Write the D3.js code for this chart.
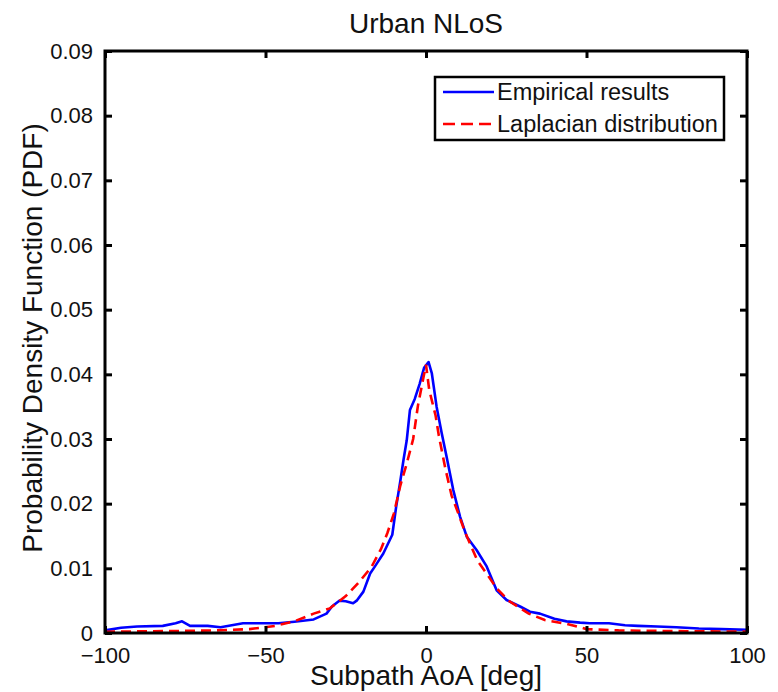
<!DOCTYPE html>
<html><head><meta charset="utf-8">
<script src="https://cdn.jsdelivr.net/npm/d3@7"></script>
<style>html,body{margin:0;padding:0;background:#fff;}svg{display:block;}</style>
</head><body>
<script>
const title = "Urban NLoS";
const xLabel = "Subpath AoA [deg]";
const yLabel = "Probability Density Function (PDF)";
const seriesNames = ["Empirical results", "Laplacian distribution"];
const xTicks = [-100, -50, 0, 50, 100];
const xTickLabels = ["\u2212100", "\u221250", "0", "50", "100"];
const yTicks = [0, 0.01, 0.02, 0.03, 0.04, 0.05, 0.06, 0.07, 0.08, 0.09];
const yTickLabels = ["0", "0.01", "0.02", "0.03", "0.04", "0.05", "0.06", "0.07", "0.08", "0.09"];

const empX = [-100, -95, -90, -82, -78, -76, -73.5, -68, -64, -57, -52, -46, -41, -35, -31, -29.3, -27, -25, -22.7, -21.6, -19.5, -17.4, -15.9, -13.3, -10.5, -9.3, -8, -7, -6, -5, -3.5, -2, -0.6, 0.8, 1.8, 3.3, 4.9, 6.4, 8.5, 10.6, 12.7, 15.8, 18.9, 22, 25.1, 29.3, 32.4, 35.5, 40, 43.8, 48, 51, 57, 62, 66, 72, 78, 85, 92, 100];
const empY = [0.0004, 0.0008, 0.001, 0.0011, 0.0015, 0.0018, 0.0011, 0.0011, 0.0009, 0.0015, 0.0015, 0.0015, 0.00175, 0.0021, 0.003, 0.0041, 0.005, 0.0049, 0.0046, 0.005, 0.0064, 0.0092, 0.0103, 0.0123, 0.0152, 0.0195, 0.0235, 0.0268, 0.0298, 0.0345, 0.0362, 0.0385, 0.041, 0.0419, 0.0402, 0.035, 0.0309, 0.0273, 0.0221, 0.018, 0.0149, 0.0128, 0.0103, 0.0066, 0.0051, 0.0041, 0.0033, 0.003, 0.0022, 0.0018, 0.0016, 0.0015, 0.0015, 0.0012, 0.0011, 0.001, 0.0009, 0.0007, 0.0006, 0.0005];

const lapX = [-100, -80, -65, -55, -47, -41, -35, -30, -25, -21, -17, -14, -12, -10, -8, -6, -4, -2.5, -1, 0, 1, 3, 4, 6, 8, 10, 12, 14, 16, 19, 22, 26, 32, 37, 44, 50, 60, 75, 100];
const lapY = [0.0002, 0.0003, 0.0004, 0.0006, 0.0011, 0.0018, 0.003, 0.0038, 0.0057, 0.0078, 0.0102, 0.013, 0.0155, 0.0185, 0.0228, 0.0262, 0.03, 0.0352, 0.039, 0.0415, 0.0376, 0.0336, 0.0305, 0.0255, 0.0212, 0.0186, 0.0158, 0.0135, 0.0112, 0.0091, 0.0069, 0.0049, 0.003, 0.002, 0.0014, 0.0006, 0.0004, 0.0003, 0.0002];

const W = 778, H = 692;
const m = {left: 105, right: 747, top: 51, bottom: 633};
const FONT = "Arial, 'Liberation Sans', Helvetica, sans-serif";

const svg = d3.select("body").append("svg").attr("width", W).attr("height", H);

const x = d3.scaleLinear().domain([-100, 100]).range([m.left, m.right]);
const y = d3.scaleLinear().domain([0, 0.09]).range([m.bottom, m.top]);

// clip
svg.append("clipPath").attr("id", "clip").append("rect")
  .attr("x", m.left).attr("y", m.top).attr("width", m.right - m.left).attr("height", m.bottom - m.top);

const line = d3.line().x((d, i) => x(d[0])).y(d => y(d[1]));

const emp = empX.map((v, i) => [v, empY[i]]);
const lap = lapX.map((v, i) => [v, lapY[i]]);

const g = svg.append("g").attr("clip-path", "url(#clip)");
g.append("path").datum(emp).attr("d", line)
  .attr("fill", "none").attr("stroke", "#0000ff").attr("stroke-width", 2.6).attr("stroke-linejoin", "round");
g.append("path").datum(lap).attr("d", line)
  .attr("fill", "none").attr("stroke", "#ff0000").attr("stroke-width", 2.6).attr("stroke-dasharray", "10,6");

// axes with inward ticks
const tickLen = 7;
const axB = d3.axisBottom(x).tickValues(xTicks).tickSize(-tickLen).tickFormat((d, i) => xTickLabels[i]).tickPadding(14);
const axT = d3.axisTop(x).tickValues(xTicks).tickSize(-tickLen).tickFormat("");
const axL = d3.axisLeft(y).tickValues(yTicks).tickSize(-tickLen).tickFormat((d, i) => yTickLabels[i]).tickPadding(12);
const axR = d3.axisRight(y).tickValues(yTicks).tickSize(-tickLen).tickFormat("");

function style(sel) {
  sel.select(".domain").remove();
  sel.selectAll(".tick line").attr("stroke", "#000").attr("stroke-width", 3);
  sel.selectAll(".tick text").attr("fill", "#111").style("font-family", FONT).style("font-size", "22px");
}
svg.append("g").attr("transform", `translate(0,${m.bottom})`).call(axB).call(style)
  .selectAll(".tick text").attr("dy", "0.71em");
svg.append("g").attr("transform", `translate(0,${m.top})`).call(axT).call(style);
svg.append("g").attr("transform", `translate(${m.left},0)`).call(axL).call(style);
svg.append("g").attr("transform", `translate(${m.right},0)`).call(axR).call(style);

// frame
svg.append("rect").attr("x", m.left).attr("y", m.top).attr("width", m.right - m.left).attr("height", m.bottom - m.top)
  .attr("fill", "none").attr("stroke", "#000").attr("stroke-width", 3);

// title and labels
svg.append("text").attr("x", (m.left + m.right) / 2).attr("y", 32.5).attr("text-anchor", "middle")
  .style("font-family", FONT).style("font-size", "28px").attr("fill", "#111").text(title);
svg.append("text").attr("x", (m.left + m.right) / 2).attr("y", 685).attr("text-anchor", "middle")
  .style("font-family", FONT).style("font-size", "28px").attr("fill", "#111").text(xLabel);
svg.append("text").attr("transform", `translate(42,${(m.top + m.bottom) / 2 - 4}) rotate(-90)`).attr("text-anchor", "middle")
  .style("font-family", FONT).style("font-size", "28px").attr("fill", "#111").text(yLabel);

// legend
const lg = svg.append("g");
lg.append("rect").attr("x", 435).attr("y", 77).attr("width", 289).attr("height", 63)
  .attr("fill", "#fff").attr("stroke", "#000").attr("stroke-width", 2.5);
const legColors = ["#0000ff", "#ff0000"];
const legDash = [null, "12,6"];
const legY = [92, 124];
seriesNames.forEach((n, i) => {
  lg.append("line").attr("x1", 443).attr("x2", 494).attr("y1", legY[i]).attr("y2", legY[i])
    .attr("stroke", legColors[i]).attr("stroke-width", 2.6).attr("stroke-dasharray", legDash[i]);
  lg.append("text").attr("x", 497).attr("y", legY[i] + 8).style("font-family", FONT).style("font-size", "23.5px")
    .attr("fill", "#111").text(n);
});
</script>
</body></html>
